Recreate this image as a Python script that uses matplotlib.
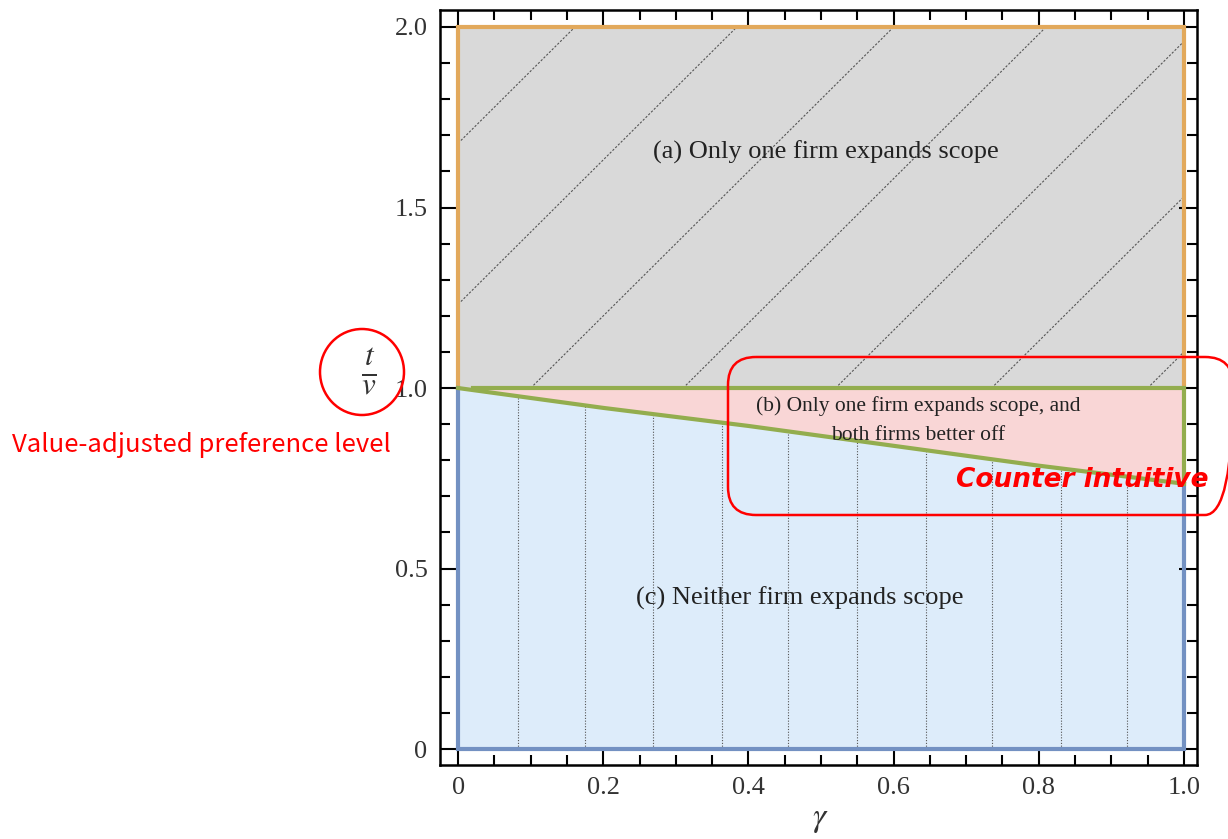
"""regions of scope expansion in (gamma, t/v) space, with slide annotations."""
import numpy as np
import matplotlib
matplotlib.use('Agg')
import matplotlib.pyplot as plt
from matplotlib.patches import Ellipse, FancyBboxPatch

plt.rcParams['font.family'] = ['Liberation Serif', 'DejaVu Serif']
plt.rcParams['mathtext.fontset'] = 'stix'

# boundary between region (b) and region (c)
gamma = [0.0, 0.2, 0.4, 0.6, 0.8, 1.0]
lower_b = [1.0, 0.945, 0.895, 0.84, 0.785, 0.735]

xticks = [0, 0.2, 0.4, 0.6, 0.8, 1.0]
xlabels = ['0', '0.2', '0.4', '0.6', '0.8', '1.0']
yticks = [0, 0.5, 1.0, 1.5, 2.0]
ylabels = ['0', '0.5', '1.0', '1.5', '2.0']

label_a = '(a) Only one firm expands scope'
label_b = '(b) Only one firm expands scope, and\nboth firms better off'
label_c = '(c) Neither firm expands scope'

# hatch lines (Mathematica mesh): diagonals y = 2x + c, verticals at x
diag_c = [1.678, 1.232, 0.8, 0.38, -0.04, -0.47, -0.9]
vert_x = [0.082, 0.175, 0.268, 0.363, 0.455, 0.549, 0.644, 0.735, 0.830, 0.922]

gray = '#d9d9d9'
pink = '#f9d6d6'
blue = '#ddecfa'
orange = '#e2a95c'
green = '#93ad4e'
bluel = '#7391c2'

W, H = 1228, 839
fig = plt.figure(figsize=(W / 100, H / 100), dpi=100)
ax = fig.add_axes([440 / W, 1 - 765 / H, (1197 - 440) / W, (765 - 10) / H])

ax.fill_between([0, 1], 1, 2, color=gray, lw=0)
ax.fill_between(gamma, lower_b, 1, color=pink, lw=0)
ax.fill_between(gamma, 0, lower_b, color=blue, lw=0)

for c in diag_c:
    x0 = max(0, (1 - c) / 2)
    x1 = min(1, (2 - c) / 2)
    if x1 > x0:
        ax.plot([x0, x1], [2 * x0 + c, 2 * x1 + c], color='#555555', lw=0.8,
                ls=(0, (2, 1.5)))
for xv in vert_x:
    ax.plot([xv, xv], [0, np.interp(xv, gamma, lower_b)], color='#555555',
            lw=0.8, ls=(0, (1, 1.5)))

lw = 3
ax.plot([0, 0, 1, 1], [1, 2, 2, 1], color=orange, lw=lw, solid_joinstyle='miter')
ax.plot([1, 1, 0, 0], [lower_b[-1], 0, 0, 1], color=bluel, lw=lw, solid_joinstyle='miter')
ax.plot(gamma, lower_b, color=green, lw=lw)
ax.plot([0.02, 1, 1], [1, 1, lower_b[-1]], color=green, lw=lw, solid_joinstyle='miter')

ax.text(0.507, 1.654, label_a, ha='center', va='center', fontsize=19, color='#222222')
ax.text(0.634, 0.91, label_b, ha='center', va='center', fontsize=15.5,
        color='#222222', linespacing=1.7)
ax.text(0.471, 0.418, label_c, ha='center', va='center', fontsize=19, color='#222222')

ax.set_xlim(-0.025, 1.018)
ax.set_ylim(-0.044, 2.047)
ax.set_xticks(xticks)
ax.set_xticklabels(xlabels)
ax.set_yticks(yticks)
ax.set_yticklabels(ylabels)
ax.set_xticks(np.arange(0, 1.001, 0.05), minor=True)
ax.set_yticks(np.arange(0, 2.001, 0.1), minor=True)
ax.tick_params(which='both', direction='in', top=True, right=True, width=1.5,
               labelsize=19, colors='black', labelcolor='#333333')
ax.tick_params(which='major', length=13, pad=9)
ax.tick_params(which='minor', length=7)
for s in ax.spines.values():
    s.set_linewidth(1.8)

fig.text(820 / W, 1 - 820 / H, r'$\gamma$', ha='center', va='center', fontsize=24,
         color='#333333')
fig.text(369 / W, 1 - 372 / H, r'$\frac{t}{v}$', ha='center', va='center', fontsize=32,
         color='#333333')

# slide annotations drawn in pixel space
ov = fig.add_axes([0, 0, 1, 1])
ov.set_xlim(0, W)
ov.set_ylim(H, 0)
ov.axis('off')
ov.patch.set_alpha(0)
ov.add_patch(Ellipse((362, 372), 84, 86, fill=False, ec='red', lw=1.8))
ov.add_patch(FancyBboxPatch((728, 357), 505, 158, boxstyle='round,pad=0,rounding_size=28',
                            fill=False, ec='red', lw=1.8))
ov.text(12, 445, 'Value-adjusted preference level', color='red', fontsize=18.5,
        family=['Noto Sans CJK KR', 'DejaVu Sans'], ha='left', va='center')
ov.text(1082, 480, 'Counter intuitive', color='red', fontsize=19, fontweight='bold',
        fontstyle='italic', family=['DejaVu Sans'], ha='center', va='center')

fig.savefig('out.png', dpi=100)
